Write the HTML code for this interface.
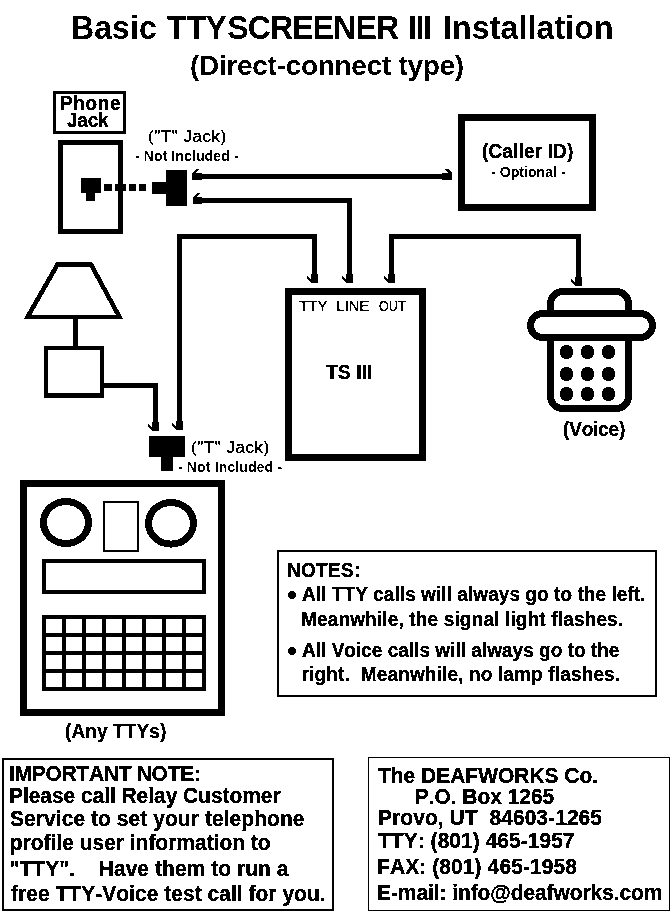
<!DOCTYPE html>
<html><head><meta charset="utf-8"><style>
html,body{margin:0;padding:0;background:#fff;}
svg{display:block;}
text{font-family:"Liberation Sans",sans-serif;fill:#000;white-space:pre;font-kerning:none;font-feature-settings:"kern" 0,"liga" 0;}
</style></head><body>
<svg width="672" height="912" viewBox="0 0 672 912" xml:space="preserve">
<defs><filter id="bin" x="0" y="0" width="672" height="912" filterUnits="userSpaceOnUse"><feComponentTransfer><feFuncA type="discrete" tableValues="0 1"/></feComponentTransfer></filter></defs>
<rect width="672" height="912" fill="#fff"/>
<g shape-rendering="crispEdges">
<rect x="54.5" y="92.5" width="70" height="40" fill="none" stroke="#000" stroke-width="3"/>
<rect x="60.5" y="142.5" width="60" height="89" fill="none" stroke="#000" stroke-width="5"/>
<rect x="81" y="178" width="20" height="15"/>
<rect x="86" y="193" width="9" height="8"/>
<rect x="104" y="184" width="8" height="7"/>
<rect x="115" y="184" width="11" height="7"/>
<rect x="129" y="184" width="7" height="7"/>
<rect x="139" y="184" width="7" height="7"/>
<rect x="152" y="182" width="14" height="12"/>
<rect x="166" y="170" width="21" height="36"/>
<rect x="192" y="174" width="260" height="5"/>
<rect x="192" y="173" width="10" height="7"/>
<polygon points="192,173 196,169 199.5,169 195.5,173"/>
<rect x="442" y="173" width="10" height="7"/>
<polygon points="452,173 448,169 444.5,169 448.5,173"/>
<rect x="202" y="198" width="150" height="5"/>
<rect x="193" y="197" width="9" height="7"/>
<polygon points="193,197 197,193 200.5,193 196.5,197"/>
<rect x="347" y="198" width="5" height="85"/>
<rect x="346" y="274" width="7" height="9"/>
<polygon points="346,283 342,279 342,275.5 346,279.5"/>
<rect x="177" y="234" width="5" height="196"/>
<rect x="176" y="421" width="7" height="9"/>
<polygon points="176,430 172,426 172,422.5 176,426.5"/>
<rect x="177" y="234" width="140" height="5"/>
<rect x="312" y="234" width="5" height="49"/>
<rect x="311" y="274" width="7" height="9"/>
<polygon points="311,283 307,279 307,275.5 311,279.5"/>
<rect x="389" y="234" width="5" height="49"/>
<rect x="388" y="274" width="7" height="9"/>
<polygon points="388,283 384,279 384,275.5 388,279.5"/>
<rect x="389" y="234" width="192" height="5"/>
<rect x="576" y="234" width="5" height="52"/>
<rect x="575" y="277" width="7" height="9"/>
<polygon points="575,286 571,282 571,278.5 575,282.5"/>
<rect x="104" y="383" width="54" height="5"/>
<rect x="153" y="383" width="5" height="48"/>
<rect x="152" y="422" width="7" height="9"/>
<polygon points="152,431 148,427 148,423.5 152,427.5"/>
<rect x="461.5" y="117.5" width="131" height="90" fill="none" stroke="#000" stroke-width="7"/>
<rect x="288.5" y="291.5" width="134" height="166" fill="none" stroke="#000" stroke-width="7"/>
<path d="M550.5,313.5 V304 A12.5,12.5 0 0 1 563,291.5 H616 A12.5,12.5 0 0 1 628.5,304 V313.5" fill="none" stroke="#000" stroke-width="7"/>
<rect x="530.5" y="313.5" width="122" height="24" rx="12" ry="12" fill="none" stroke="#000" stroke-width="7"/>
<path d="M550.5,337.5 V396.5 A12,12 0 0 0 562.5,408.5 H616.5 A12,12 0 0 0 628.5,396.5 V337.5" fill="none" stroke="#000" stroke-width="7"/>
<circle cx="566.5" cy="352" r="7"/>
<circle cx="587.5" cy="352" r="7"/>
<circle cx="608.5" cy="352" r="7"/>
<circle cx="566.5" cy="374" r="7"/>
<circle cx="587.5" cy="374" r="7"/>
<circle cx="608.5" cy="374" r="7"/>
<circle cx="566.5" cy="394" r="7"/>
<circle cx="587.5" cy="394" r="7"/>
<circle cx="608.5" cy="394" r="7"/>
<polygon points="57.5,264.5 91,264.5 119.5,317 27.5,317" fill="none" stroke="#000" stroke-width="4.5" stroke-linejoin="miter"/>
<rect x="73" y="319" width="5" height="27"/>
<rect x="46.0" y="348.0" width="56" height="48" fill="none" stroke="#000" stroke-width="4"/>
<rect x="44" y="393" width="60" height="5"/>
<rect x="149" y="436" width="36" height="21"/>
<rect x="161" y="457" width="12" height="14"/>
<rect x="23.5" y="483.5" width="198" height="229" fill="none" stroke="#000" stroke-width="7"/>
<ellipse cx="66" cy="522.5" rx="22.5" ry="21" fill="none" stroke="#000" stroke-width="7"/>
<ellipse cx="171" cy="523.3" rx="22.4" ry="20.8" fill="none" stroke="#000" stroke-width="7"/>
<rect x="104.0" y="502.0" width="34" height="49" fill="none" stroke="#000" stroke-width="2"/>
<rect x="44.0" y="561.0" width="160" height="31" fill="none" stroke="#000" stroke-width="4"/>
<rect x="42" y="615" width="4" height="76"/>
<rect x="62" y="615" width="4" height="76"/>
<rect x="82" y="615" width="4" height="76"/>
<rect x="102" y="615" width="4" height="76"/>
<rect x="122" y="615" width="4" height="76"/>
<rect x="142" y="615" width="4" height="76"/>
<rect x="162" y="615" width="4" height="76"/>
<rect x="182" y="615" width="4" height="76"/>
<rect x="202" y="615" width="4" height="76"/>
<rect x="42" y="615" width="164" height="4"/>
<rect x="42" y="633" width="164" height="4"/>
<rect x="42" y="651" width="164" height="4"/>
<rect x="42" y="669" width="164" height="4"/>
<rect x="42" y="687" width="164" height="4"/>
<rect x="278.0" y="551.0" width="378" height="145" fill="none" stroke="#000" stroke-width="2"/>
<circle cx="292" cy="595" r="4"/>
<circle cx="292" cy="651" r="4"/>
<rect x="3.0" y="759.0" width="330" height="151" fill="none" stroke="#000" stroke-width="2"/>
<rect x="368.5" y="757.5" width="301" height="153" fill="none" stroke="#000" stroke-width="1"/>
</g>
<g filter="url(#bin)">
<text transform="translate(71.00,39) scale(1.0000,1.0224)" font-weight="bold" font-size="32" letter-spacing="0.102">Basic</text>
<text transform="translate(167.00,39) scale(1.0000,1.0447)" font-weight="bold" font-size="32" letter-spacing="0.000">T</text>
<text transform="translate(186.50,39) scale(1.0000,1.0447)" font-weight="bold" font-size="32" letter-spacing="0.000">T</text>
<text transform="translate(205.50,39) scale(1.0000,1.0447)" font-weight="bold" font-size="32" letter-spacing="0.000">Y</text>
<text transform="translate(227.30,39) scale(1.0000,1.0447)" font-weight="bold" font-size="32" letter-spacing="-0.858">SCREENER</text>
<text transform="translate(408.00,39) scale(1.0000,1.0447)" font-weight="bold" font-size="32" letter-spacing="-1.391">III</text>
<text transform="translate(443.00,39) scale(1.0000,1.0224)" font-weight="bold" font-size="32" letter-spacing="0.149">Installation</text>
<text transform="translate(190.00,75) scale(1.0000,1.0191)" font-weight="bold" font-size="28" letter-spacing="-0.286">(Direct-connect type)</text>
<text transform="translate(60.00,110) scale(1.0000,1.0355)" font-weight="bold" font-size="19" letter-spacing="0.627" stroke="#000" stroke-width="0.28">Phone</text>
<text transform="translate(67.00,127) scale(1.0000,1.0355)" font-weight="bold" font-size="19" letter-spacing="-0.234" stroke="#000" stroke-width="0.28">Jack</text>
<text transform="translate(148.00,142) scale(1.0000,0.9959)" font-weight="normal" font-size="17" letter-spacing="0.523" stroke="#000" stroke-width="0.3">(&quot;T&quot; Jack)</text>
<text transform="translate(135.00,161) scale(1.0000,1.0191)" font-weight="bold" font-size="14" letter-spacing="0.119">- Not Included -</text>
<text transform="translate(482.00,158) scale(1.0000,1.0164)" font-weight="bold" font-size="19" letter-spacing="0.159" stroke="#000" stroke-width="0.28">(Caller ID)</text>
<text transform="translate(491.00,177) scale(1.0000,1.0191)" font-weight="bold" font-size="14" letter-spacing="0.071">- Optional -</text>
<text transform="translate(299.00,311) scale(1.0847,1.0382)" font-weight="normal" font-size="14" letter-spacing="0.000" stroke="#000" stroke-width="0.3">TTY</text>
<text transform="translate(336.44,311) scale(1.0575,1.0382)" font-weight="normal" font-size="14" letter-spacing="0.000" stroke="#000" stroke-width="0.3">LINE</text>
<text transform="translate(379.00,311) scale(0.9000,1.0382)" font-weight="normal" font-size="14" letter-spacing="0.000" stroke="#000" stroke-width="0.3">OUT</text>
<text transform="translate(326.00,379) scale(1.0000,1.0435)" font-weight="bold" font-size="19.5" letter-spacing="-0.034" stroke="#000" stroke-width="0.28">TS III</text>
<text transform="translate(563.00,436) scale(1.0000,1.0355)" font-weight="bold" font-size="19" letter-spacing="-0.170" stroke="#000" stroke-width="0.28">(Voice)</text>
<text transform="translate(191.00,453) scale(1.0000,0.9959)" font-weight="normal" font-size="17" letter-spacing="0.523" stroke="#000" stroke-width="0.3">(&quot;T&quot; Jack)</text>
<text transform="translate(178.00,472) scale(1.0000,1.0191)" font-weight="bold" font-size="14" letter-spacing="0.152">- Not Included -</text>
<text transform="translate(65.00,738) scale(1.0000,1.0355)" font-weight="bold" font-size="19" letter-spacing="0.116" stroke="#000" stroke-width="0.28">(Any TTYs)</text>
<text transform="translate(287.00,577) scale(1.0000,1.0710)" font-weight="bold" font-size="19" letter-spacing="0.310" stroke="#000" stroke-width="0.28">NOTES:</text>
<text transform="translate(302.00,601) scale(1.0000,1.0355)" font-weight="bold" font-size="19" letter-spacing="0.067" stroke="#000" stroke-width="0.28">All TTY calls will always go to the left.</text>
<text transform="translate(301.00,625.5) scale(1.0000,1.0355)" font-weight="bold" font-size="19" letter-spacing="0.159" stroke="#000" stroke-width="0.28">Meanwhile, the signal light flashes.</text>
<text transform="translate(302.00,657) scale(1.0000,1.0355)" font-weight="bold" font-size="19" letter-spacing="0.022" stroke="#000" stroke-width="0.28">All Voice calls will always go to the</text>
<text transform="translate(301.50,680.5) scale(1.0000,1.0355)" font-weight="bold" font-size="19" letter-spacing="0.154" stroke="#000" stroke-width="0.28">right.  Meanwhile, no lamp flashes.</text>
<text transform="translate(9.00,781) scale(1.0000,1.0382)" font-weight="bold" font-size="21" letter-spacing="-0.285" stroke="#000" stroke-width="0.28">IMPORTANT NOTE:</text>
<text transform="translate(9.00,803) scale(1.0000,1.0191)" font-weight="bold" font-size="21" letter-spacing="-0.055" stroke="#000" stroke-width="0.28">Please call Relay Customer</text>
<text transform="translate(10.00,826) scale(1.0000,1.0191)" font-weight="bold" font-size="21" letter-spacing="0.063" stroke="#000" stroke-width="0.28">Service to set your telephone</text>
<text transform="translate(9.80,849.6) scale(1.0000,1.0191)" font-weight="bold" font-size="21" letter-spacing="-0.012" stroke="#000" stroke-width="0.28">profile user information to</text>
<text transform="translate(9.50,876) scale(1.0000,1.0191)" font-weight="bold" font-size="21" letter-spacing="0.052" stroke="#000" stroke-width="0.28">&quot;TTY&quot;.    Have them to run a</text>
<text transform="translate(11.00,900.6) scale(1.0000,1.0191)" font-weight="bold" font-size="21" letter-spacing="0.029" stroke="#000" stroke-width="0.28">free TTY-Voice test call for you.</text>
<text transform="translate(378.00,783) scale(1.0000,1.0191)" font-weight="bold" font-size="21" letter-spacing="-0.016" stroke="#000" stroke-width="0.28">The DEAFWORKS Co.</text>
<text transform="translate(414.70,804) scale(1.0000,1.0191)" font-weight="bold" font-size="21" letter-spacing="-0.032" stroke="#000" stroke-width="0.28">P.O. Box 1265</text>
<text transform="translate(378.00,825) scale(1.0000,1.0191)" font-weight="bold" font-size="21" letter-spacing="0.061" stroke="#000" stroke-width="0.28">Provo, UT  84603-1265</text>
<text transform="translate(378.00,848) scale(1.0000,1.0191)" font-weight="bold" font-size="21" letter-spacing="0.032" stroke="#000" stroke-width="0.28">TTY: (801) 465-1957</text>
<text transform="translate(377.00,874) scale(1.0000,1.0191)" font-weight="bold" font-size="21" letter-spacing="0.091" stroke="#000" stroke-width="0.28">FAX: (801) 465-1958</text>
<text transform="translate(377.00,899.5) scale(1.0000,1.0191)" font-weight="bold" font-size="21" letter-spacing="-0.081" stroke="#000" stroke-width="0.28">E-mail: info@deafworks.com</text>
</g>
</svg>
</body></html>
